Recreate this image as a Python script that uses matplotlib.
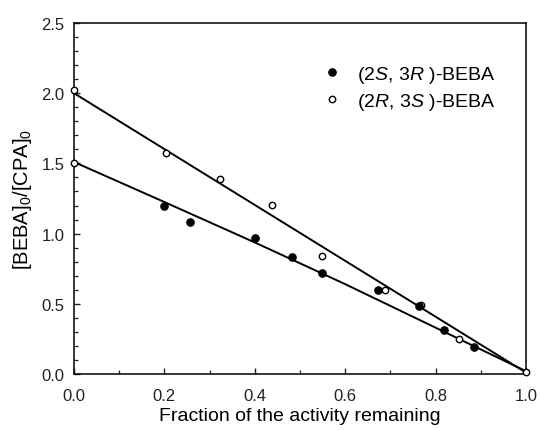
import matplotlib
matplotlib.use("Agg")
import matplotlib.pyplot as plt
from matplotlib.ticker import MultipleLocator

plt.rcParams["font.family"] = ["Liberation Sans", "DejaVu Sans"]
plt.rcParams["mathtext.fontset"] = "custom"
plt.rcParams["mathtext.rm"] = "Liberation Sans"
plt.rcParams["mathtext.it"] = "Liberation Sans:italic"

# (2S,3R)-BEBA, filled circles
ssr_x = [0.20, 0.257, 0.40, 0.482, 0.548, 0.673, 0.764, 0.819, 0.886]
ssr_y = [1.20, 1.085, 0.966, 0.836, 0.719, 0.600, 0.487, 0.313, 0.193]

# (2R,3S)-BEBA, open circles
rrs_x = [0.0, 0.0, 0.203, 0.323, 0.437, 0.548, 0.688, 0.768, 0.852, 1.0]
rrs_y = [1.50, 2.02, 1.572, 1.389, 1.206, 0.843, 0.600, 0.490, 0.249, 0.015]

# fitted lines
upper_x = [0.0, 1.0]
upper_y = [2.0, 0.01]
lower_x = [0.0, 0.2, 0.4, 0.6, 0.8, 1.0]
lower_y = [1.51, 1.225, 0.937, 0.64, 0.33, 0.02]

fig = plt.figure(figsize=(5.41, 4.31), dpi=100)
ax = fig.add_axes([0.1368, 0.1299, 0.8355, 0.8144])

ax.plot(upper_x, upper_y, color="black", linewidth=1.4, zorder=2)
ax.plot(lower_x, lower_y, color="black", linewidth=1.4, zorder=2)

ax.plot(rrs_x, rrs_y, linestyle="none", marker="o", markersize=4.6,
        markerfacecolor="white", markeredgecolor="black",
        markeredgewidth=1.0, clip_on=False, zorder=3,
        label=r"(2$\mathit{R}$, 3$\mathit{S}$ )-BEBA")
ax.plot(ssr_x, ssr_y, linestyle="none", marker="o", markersize=5.2,
        color="black", clip_on=False, zorder=4,
        label=r"(2$\mathit{S}$, 3$\mathit{R}$ )-BEBA")

ax.set_xlim(0, 1.0)
ax.set_ylim(0, 2.5)
ax.xaxis.set_major_locator(MultipleLocator(0.2))
ax.xaxis.set_minor_locator(MultipleLocator(0.1))
ax.yaxis.set_major_locator(MultipleLocator(0.5))
ax.yaxis.set_minor_locator(MultipleLocator(0.1))
ax.xaxis.set_major_formatter(lambda v, p: f"{v:.1f}")
ax.yaxis.set_major_formatter(lambda v, p: f"{v:.1f}")
ax.tick_params(which="both", direction="in", top=False, right=False,
               labelsize=12, colors="#222222")
ax.tick_params(which="major", length=4.5, width=1.0)
ax.tick_params(which="minor", length=2.8, width=0.9)
ax.tick_params(axis="x", which="major", pad=10)
ax.tick_params(axis="y", which="major", pad=7)
for sp in ax.spines.values():
    sp.set_linewidth(1.1)

ax.set_xlabel("Fraction of the activity remaining", fontsize=14, labelpad=3)
ax.set_ylabel(r"[BEBA]$_0$/[CPA]$_0$", fontsize=14.5, labelpad=5)

handles, labels = ax.get_legend_handles_labels()
ax.legend(handles[::-1], labels[::-1], loc="upper left",
          bbox_to_anchor=(0.54, 0.905), frameon=False, fontsize=14,
          handlelength=0.6, handletextpad=1.0, labelspacing=0.3,
          borderaxespad=0)

fig.savefig("out.png", dpi=100)
